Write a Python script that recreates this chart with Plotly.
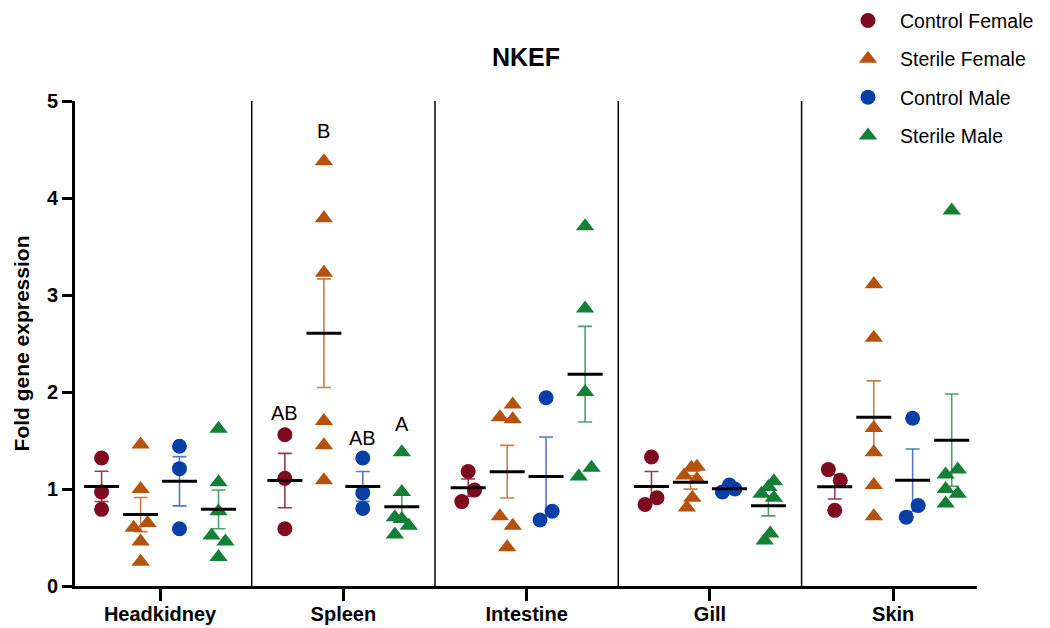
import numpy as np
import plotly.graph_objects as go

# Tissues on the x axis
tissues = ["Headkidney", "Spleen", "Intestine", "Gill", "Skin"]

# Fold gene expression per fish, one list per tissue (same order as tissues)
control_female = [
    [1.32, 0.97, 0.79],
    [1.56, 1.11, 0.59],
    [1.18, 0.99, 0.87],
    [1.33, 0.91, 0.84],
    [1.20, 1.09, 0.78],
]
sterile_female = [
    [1.46, 1.00, 0.65, 0.60, 0.46, 0.25],
    [4.38, 3.79, 3.23, 1.70, 1.45, 1.09],
    [1.87, 1.74, 1.72, 0.72, 0.62, 0.40],
    [1.22, 1.23, 1.14, 1.10, 0.91, 0.81],
    [3.11, 2.56, 1.63, 1.38, 1.04, 0.72],
]
control_male = [
    [1.44, 1.21, 0.59],
    [1.32, 0.96, 0.80],
    [1.94, 0.77, 0.68],
    [0.97, 1.04, 1.00],
    [1.73, 0.83, 0.71],
]
sterile_male = [
    [1.62, 1.07, 0.77, 0.52, 0.46, 0.30],
    [1.38, 0.97, 0.71, 0.69, 0.62, 0.53],
    [3.71, 2.86, 2.00, 1.22, 1.13],
    [1.08, 0.95, 1.02, 0.91, 0.54, 0.47],
    [3.87, 1.15, 1.20, 1.00, 0.95, 0.85],
]

# Horizontal scatter of overlapping points (category units)
control_female_dx = [
    [0, 0, 0],
    [0, 0, 0],
    [0, 0.035, -0.035],
    [0, 0.03, -0.035],
    [-0.035, 0.03, 0],
]
sterile_female_dx = [
    [0, 0, 0.038, -0.038, 0, 0],
    [0, 0, 0, 0, 0, 0],
    [0.03, -0.04, 0.03, -0.04, 0.03, 0],
    [0.005, 0.035, -0.035, 0.035, 0.01, -0.02],
    [0, 0, 0, 0, 0, 0],
]
control_male_dx = [
    [0, 0, 0],
    [0, 0, 0],
    [0, 0.033, -0.033],
    [-0.038, 0, 0.03],
    [0, 0.03, -0.035],
]
sterile_male_dx = [
    [0, 0, 0, -0.038, 0.038, 0],
    [0, 0, -0.038, 0, 0.038, -0.038],
    [0, 0, 0, 0.035, -0.035],
    [0.03, -0.038, 0, 0.03, 0.01, -0.02],
    [0, -0.033, 0.033, -0.033, 0.033, -0.033],
]

group_names = ["Control Female", "Sterile Female", "Control Male", "Sterile Male"]
group_values = [control_female, sterile_female, control_male, sterile_male]
group_dx = [control_female_dx, sterile_female_dx, control_male_dx, sterile_male_dx]
group_offsets = [-0.319, -0.106, 0.106, 0.319]
group_colors = ["#7E0B20", "#B5530E", "#0A3FA8", "#137F37"]
bar_colors = ["rgba(126,11,32,0.8)", "rgba(181,83,14,0.75)",
              "rgba(10,63,168,0.7)", "rgba(19,127,55,0.75)"]
group_symbols = ["circle", "triangle-up", "circle", "triangle-up"]
group_sizes = [15, 16, 15, 16]

# Significance letters above the spleen groups
letter_text = ["AB", "B", "AB", "A"]
letter_y = [1.78, 4.69, 1.53, 1.67]
letter_tissue = 1

FONT = "Arial, Liberation Sans, Helvetica, sans-serif"

fig = go.Figure()

# Individual fish
for name, vals, dxs, off, col, sym, sz in zip(group_names, group_values, group_dx,
                                              group_offsets, group_colors,
                                              group_symbols, group_sizes):
    xs, ys = [], []
    for i, (v, d) in enumerate(zip(vals, dxs)):
        xs += [i + off + dd for dd in d]
        ys += v
    fig.add_trace(go.Scatter(
        x=xs, y=ys, mode="markers", name=name, legendgroup=name,
        marker=dict(symbol=sym, size=sz, color=col, line=dict(width=0)),
        hoverinfo="y",
    ))

# Mean +/- SEM per group
for name, vals, off, bcol in zip(group_names, group_values, group_offsets, bar_colors):
    xc = [i + off for i in range(len(tissues))]
    means = [float(np.mean(v)) for v in vals]
    sems = [float(np.std(v, ddof=1) / np.sqrt(len(v))) for v in vals]
    fig.add_trace(go.Scatter(
        x=xc, y=means, mode="markers", showlegend=False, hoverinfo="skip",
        marker=dict(size=1, opacity=0),
        error_y=dict(type="data", array=sems, visible=True,
                     color=bcol, thickness=1.6, width=7),
    ))
    fig.add_trace(go.Scatter(
        x=xc, y=means, mode="markers", showlegend=False, hoverinfo="y",
        marker=dict(symbol="line-ew", size=25, color="black",
                    line=dict(width=3, color="black")),
    ))

# Panel separators between tissues
for k in range(len(tissues) - 1):
    fig.add_shape(type="line", xref="x", yref="y", x0=k + 0.5, x1=k + 0.5,
                  y0=0, y1=5, line=dict(color="black", width=1.5))

for txt, yv, off in zip(letter_text, letter_y, group_offsets):
    fig.add_annotation(x=letter_tissue + off, y=yv, text=txt, showarrow=False,
                       font=dict(family=FONT, size=20, color="black"))

fig.update_layout(
    width=1050, height=628,
    margin=dict(l=75, r=73, t=101, b=42, autoexpand=False),
    paper_bgcolor="white", plot_bgcolor="white",
    font=dict(family=FONT, color="black"),
    title=dict(text="NKEF", x=0.5, xref="paper", xanchor="center",
               y=1 - 57 / 628, yref="container", yanchor="middle",
               font=dict(family=FONT, size=25, color="black", weight="bold")),
    showlegend=True,
    legend=dict(x=0.8437, xanchor="left", y=1.2056, yanchor="top",
                font=dict(family=FONT, size=19.5, color="black"),
                itemwidth=54, tracegroupgap=10, bgcolor="rgba(0,0,0,0)"),
    xaxis=dict(range=[-0.464, 4.457], tickmode="array",
               tickvals=list(range(len(tissues))), ticktext=tissues,
               showline=True, linecolor="black", linewidth=3,
               ticks="outside", ticklen=12, tickwidth=3, tickcolor="black",
               ticklabelstandoff=-4,
               tickfont=dict(family=FONT, size=20, color="black", weight="bold"),
               showgrid=False, zeroline=False, automargin=False),
    yaxis=dict(range=[0, 5], dtick=1, tick0=0,
               showline=True, linecolor="black", linewidth=3,
               ticks="outside", ticklen=10, tickwidth=3, tickcolor="black",
               tickfont=dict(family=FONT, size=20, color="black", weight="bold"),
               title=dict(text="Fold gene expression", standoff=12,
                          font=dict(family=FONT, size=21, color="black", weight="bold")),
               showgrid=False, zeroline=False, automargin=False),
)

fig.write_html("out.html")
